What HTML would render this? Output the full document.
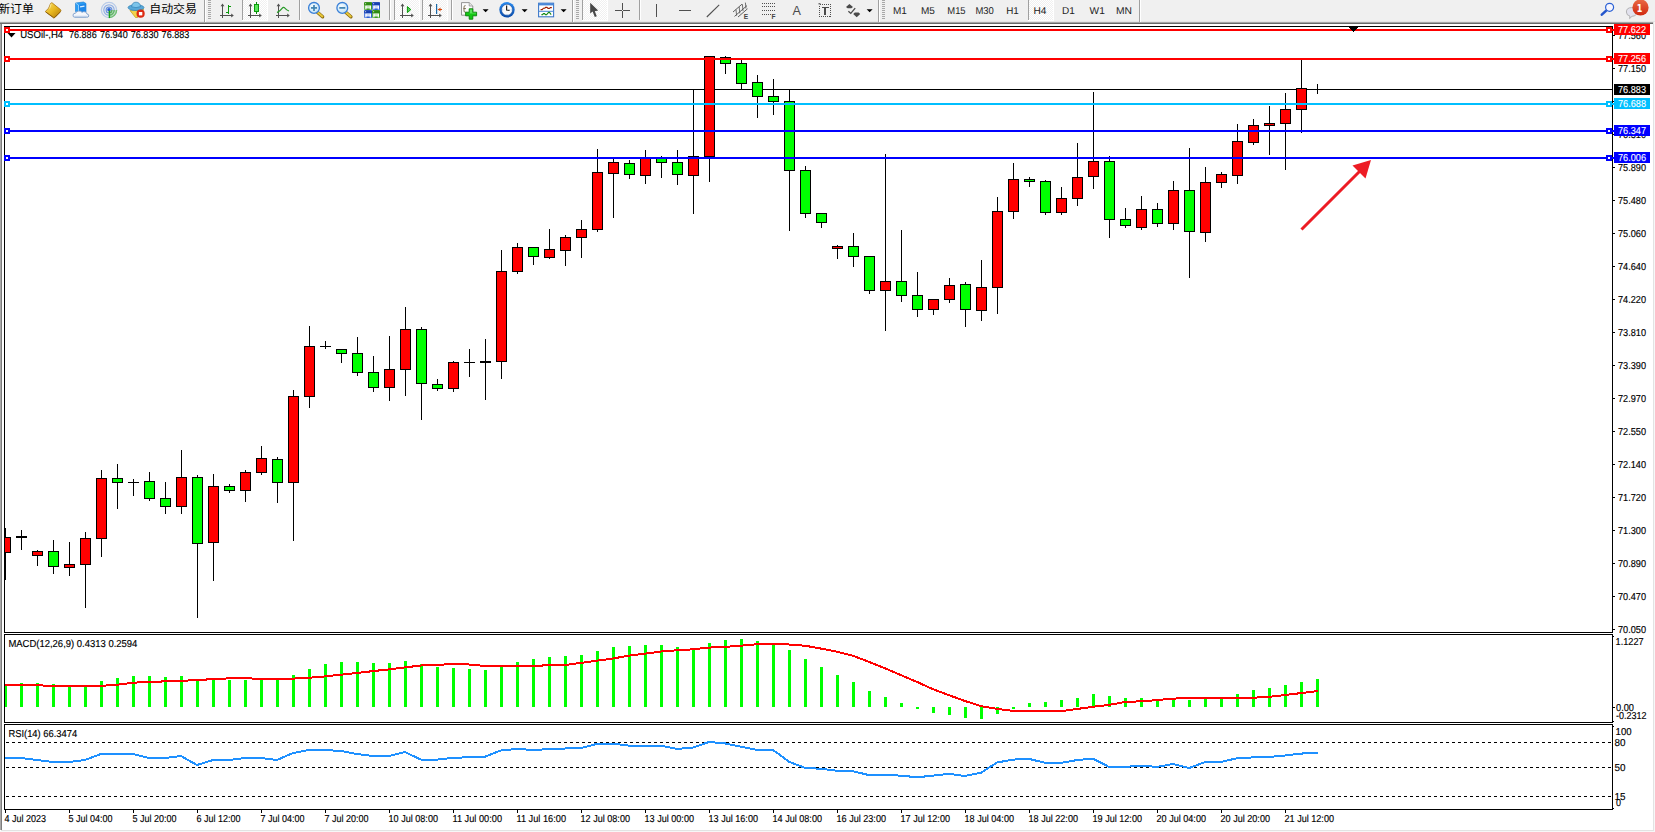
<!DOCTYPE html><html><head><meta charset="utf-8"><title>USOil H4</title><style>html,body{margin:0;padding:0;background:#fff;overflow:hidden}body{width:1655px;height:832px}svg{display:block}text{font-family:"Liberation Sans","Noto Sans CJK SC",sans-serif}.t{font-size:10.1px;fill:#000;stroke:#000;stroke-width:0.15px;text-rendering:geometricPrecision}.w{font-size:10.1px;fill:#fff;stroke:#fff;stroke-width:0.1px;text-rendering:geometricPrecision}.cj{font-size:11.6px;fill:#000}.tf{font-size:10px;fill:#222;text-rendering:geometricPrecision}</style></head><body>
<svg width="1655" height="832" viewBox="0 0 1655 832">
<rect width="1655" height="832" fill="#fff"/>
<g id="toolbar">
<rect x="0" y="0" width="1655" height="22" fill="#f0f0f0"/>
<rect x="0" y="21" width="1655" height="1" fill="#e6e6e6"/>
<rect x="0" y="22" width="1654" height="1" fill="#a6a6a6"/>
<rect x="0" y="23" width="1654" height="1" fill="#696969"/>
</g>
<rect x="0" y="24" width="1" height="806" fill="#a9a9a9"/>
<rect x="1" y="24" width="1" height="806" fill="#7d7d7d"/>
<rect x="1653" y="22" width="1" height="809" fill="#e3e3e3"/>
<rect x="1654" y="22" width="1" height="810" fill="#f7f7f7"/>
<rect x="1" y="830" width="1653" height="1" fill="#e3e3e3"/>
<rect x="0" y="831" width="1655" height="1" fill="#f7f7f7"/>
<g id="frames" fill="#000" shape-rendering="crispEdges">
<rect x="4" y="26" width="1609" height="1" fill="#000"/>
<rect x="4" y="26" width="1" height="784" fill="#000"/>
<rect x="1612" y="26" width="1" height="784" fill="#000"/>
<rect x="4" y="632" width="1609" height="1" fill="#000"/>
<rect x="4" y="633" width="1609" height="1" fill="#fff"/>
<rect x="4" y="634" width="1609" height="1" fill="#000"/>
<rect x="4" y="722" width="1609" height="1" fill="#000"/>
<rect x="4" y="723" width="1609" height="1" fill="#fff"/>
<rect x="4" y="724" width="1609" height="1" fill="#000"/>
<rect x="4" y="809" width="1609" height="1" fill="#000"/>
</g>
<rect x="5" y="89" width="1607" height="1" fill="#000"/>
<g id="candles" shape-rendering="crispEdges">
<rect x="5" y="528" width="1" height="52" fill="#000"/>
<rect x="5" y="537" width="6" height="16" fill="#000"/>
<rect x="5" y="538" width="5" height="14" fill="#ff0000"/>
<rect x="21" y="530" width="1" height="20" fill="#000"/>
<rect x="16" y="536" width="11" height="2" fill="#000"/>
<rect x="37" y="550" width="1" height="16" fill="#000"/>
<rect x="32" y="551" width="11" height="5" fill="#000"/>
<rect x="33" y="552" width="9" height="3" fill="#ff0000"/>
<rect x="53" y="540" width="1" height="34" fill="#000"/>
<rect x="48" y="551" width="11" height="16" fill="#000"/>
<rect x="49" y="552" width="9" height="14" fill="#00ff00"/>
<rect x="69" y="542" width="1" height="34" fill="#000"/>
<rect x="64" y="564" width="11" height="4" fill="#000"/>
<rect x="65" y="565" width="9" height="2" fill="#ff0000"/>
<rect x="85" y="532" width="1" height="76" fill="#000"/>
<rect x="80" y="538" width="11" height="27" fill="#000"/>
<rect x="81" y="539" width="9" height="25" fill="#ff0000"/>
<rect x="101" y="470" width="1" height="87" fill="#000"/>
<rect x="96" y="478" width="11" height="61" fill="#000"/>
<rect x="97" y="479" width="9" height="59" fill="#ff0000"/>
<rect x="117" y="464" width="1" height="45" fill="#000"/>
<rect x="112" y="478" width="11" height="5" fill="#000"/>
<rect x="113" y="479" width="9" height="3" fill="#00ff00"/>
<rect x="133" y="479" width="1" height="17" fill="#000"/>
<rect x="128" y="482" width="11" height="1" fill="#000"/>
<rect x="149" y="472" width="1" height="29" fill="#000"/>
<rect x="144" y="481" width="11" height="18" fill="#000"/>
<rect x="145" y="482" width="9" height="16" fill="#00ff00"/>
<rect x="165" y="482" width="1" height="32" fill="#000"/>
<rect x="160" y="498" width="11" height="9" fill="#000"/>
<rect x="161" y="499" width="9" height="7" fill="#00ff00"/>
<rect x="181" y="450" width="1" height="64" fill="#000"/>
<rect x="176" y="477" width="11" height="30" fill="#000"/>
<rect x="177" y="478" width="9" height="28" fill="#ff0000"/>
<rect x="197" y="475" width="1" height="143" fill="#000"/>
<rect x="192" y="477" width="11" height="67" fill="#000"/>
<rect x="193" y="478" width="9" height="65" fill="#00ff00"/>
<rect x="213" y="474" width="1" height="107" fill="#000"/>
<rect x="208" y="486" width="11" height="57" fill="#000"/>
<rect x="209" y="487" width="9" height="55" fill="#ff0000"/>
<rect x="229" y="484" width="1" height="9" fill="#000"/>
<rect x="224" y="486" width="11" height="5" fill="#000"/>
<rect x="225" y="487" width="9" height="3" fill="#00ff00"/>
<rect x="245" y="470" width="1" height="32" fill="#000"/>
<rect x="240" y="472" width="11" height="19" fill="#000"/>
<rect x="241" y="473" width="9" height="17" fill="#ff0000"/>
<rect x="261" y="446" width="1" height="29" fill="#000"/>
<rect x="256" y="458" width="11" height="15" fill="#000"/>
<rect x="257" y="459" width="9" height="13" fill="#ff0000"/>
<rect x="277" y="457" width="1" height="46" fill="#000"/>
<rect x="272" y="459" width="11" height="24" fill="#000"/>
<rect x="273" y="460" width="9" height="22" fill="#00ff00"/>
<rect x="293" y="390" width="1" height="151" fill="#000"/>
<rect x="288" y="396" width="11" height="87" fill="#000"/>
<rect x="289" y="397" width="9" height="85" fill="#ff0000"/>
<rect x="309" y="326" width="1" height="82" fill="#000"/>
<rect x="304" y="346" width="11" height="51" fill="#000"/>
<rect x="305" y="347" width="9" height="49" fill="#ff0000"/>
<rect x="325" y="341" width="1" height="8" fill="#000"/>
<rect x="320" y="346" width="11" height="1" fill="#000"/>
<rect x="341" y="349" width="1" height="14" fill="#000"/>
<rect x="336" y="349" width="11" height="5" fill="#000"/>
<rect x="337" y="350" width="9" height="3" fill="#00ff00"/>
<rect x="357" y="337" width="1" height="39" fill="#000"/>
<rect x="352" y="353" width="11" height="20" fill="#000"/>
<rect x="353" y="354" width="9" height="18" fill="#00ff00"/>
<rect x="373" y="356" width="1" height="36" fill="#000"/>
<rect x="368" y="372" width="11" height="16" fill="#000"/>
<rect x="369" y="373" width="9" height="14" fill="#00ff00"/>
<rect x="389" y="336" width="1" height="65" fill="#000"/>
<rect x="384" y="369" width="11" height="19" fill="#000"/>
<rect x="385" y="370" width="9" height="17" fill="#ff0000"/>
<rect x="405" y="307" width="1" height="89" fill="#000"/>
<rect x="400" y="329" width="11" height="41" fill="#000"/>
<rect x="401" y="330" width="9" height="39" fill="#ff0000"/>
<rect x="421" y="327" width="1" height="93" fill="#000"/>
<rect x="416" y="329" width="11" height="55" fill="#000"/>
<rect x="417" y="330" width="9" height="53" fill="#00ff00"/>
<rect x="437" y="379" width="1" height="12" fill="#000"/>
<rect x="432" y="384" width="11" height="5" fill="#000"/>
<rect x="433" y="385" width="9" height="3" fill="#00ff00"/>
<rect x="453" y="361" width="1" height="31" fill="#000"/>
<rect x="448" y="362" width="11" height="27" fill="#000"/>
<rect x="449" y="363" width="9" height="25" fill="#ff0000"/>
<rect x="469" y="349" width="1" height="28" fill="#000"/>
<rect x="464" y="362" width="11" height="1" fill="#000"/>
<rect x="485" y="339" width="1" height="61" fill="#000"/>
<rect x="480" y="361" width="11" height="2" fill="#000"/>
<rect x="501" y="250" width="1" height="129" fill="#000"/>
<rect x="496" y="271" width="11" height="91" fill="#000"/>
<rect x="497" y="272" width="9" height="89" fill="#ff0000"/>
<rect x="517" y="243" width="1" height="31" fill="#000"/>
<rect x="512" y="247" width="11" height="25" fill="#000"/>
<rect x="513" y="248" width="9" height="23" fill="#ff0000"/>
<rect x="533" y="247" width="1" height="18" fill="#000"/>
<rect x="528" y="247" width="11" height="10" fill="#000"/>
<rect x="529" y="248" width="9" height="8" fill="#00ff00"/>
<rect x="549" y="229" width="1" height="30" fill="#000"/>
<rect x="544" y="249" width="11" height="9" fill="#000"/>
<rect x="545" y="250" width="9" height="7" fill="#ff0000"/>
<rect x="565" y="235" width="1" height="31" fill="#000"/>
<rect x="560" y="237" width="11" height="14" fill="#000"/>
<rect x="561" y="238" width="9" height="12" fill="#ff0000"/>
<rect x="581" y="220" width="1" height="38" fill="#000"/>
<rect x="576" y="229" width="11" height="9" fill="#000"/>
<rect x="577" y="230" width="9" height="7" fill="#ff0000"/>
<rect x="597" y="149" width="1" height="83" fill="#000"/>
<rect x="592" y="172" width="11" height="58" fill="#000"/>
<rect x="593" y="173" width="9" height="56" fill="#ff0000"/>
<rect x="613" y="158" width="1" height="60" fill="#000"/>
<rect x="608" y="162" width="11" height="12" fill="#000"/>
<rect x="609" y="163" width="9" height="10" fill="#ff0000"/>
<rect x="629" y="160" width="1" height="19" fill="#000"/>
<rect x="624" y="163" width="11" height="12" fill="#000"/>
<rect x="625" y="164" width="9" height="10" fill="#00ff00"/>
<rect x="645" y="150" width="1" height="34" fill="#000"/>
<rect x="640" y="158" width="11" height="18" fill="#000"/>
<rect x="641" y="159" width="9" height="16" fill="#ff0000"/>
<rect x="661" y="156" width="1" height="22" fill="#000"/>
<rect x="656" y="158" width="11" height="5" fill="#000"/>
<rect x="657" y="159" width="9" height="3" fill="#00ff00"/>
<rect x="677" y="150" width="1" height="35" fill="#000"/>
<rect x="672" y="162" width="11" height="13" fill="#000"/>
<rect x="673" y="163" width="9" height="11" fill="#00ff00"/>
<rect x="693" y="90" width="1" height="124" fill="#000"/>
<rect x="688" y="156" width="11" height="20" fill="#000"/>
<rect x="689" y="157" width="9" height="18" fill="#ff0000"/>
<rect x="709" y="56" width="1" height="126" fill="#000"/>
<rect x="704" y="56" width="11" height="101" fill="#000"/>
<rect x="705" y="57" width="9" height="99" fill="#ff0000"/>
<rect x="725" y="56" width="1" height="18" fill="#000"/>
<rect x="720" y="57" width="11" height="7" fill="#000"/>
<rect x="721" y="58" width="9" height="5" fill="#00ff00"/>
<rect x="741" y="60" width="1" height="29" fill="#000"/>
<rect x="736" y="63" width="11" height="21" fill="#000"/>
<rect x="737" y="64" width="9" height="19" fill="#00ff00"/>
<rect x="757" y="75" width="1" height="43" fill="#000"/>
<rect x="752" y="82" width="11" height="15" fill="#000"/>
<rect x="753" y="83" width="9" height="13" fill="#00ff00"/>
<rect x="773" y="79" width="1" height="36" fill="#000"/>
<rect x="768" y="96" width="11" height="6" fill="#000"/>
<rect x="769" y="97" width="9" height="4" fill="#00ff00"/>
<rect x="789" y="90" width="1" height="141" fill="#000"/>
<rect x="784" y="101" width="11" height="70" fill="#000"/>
<rect x="785" y="102" width="9" height="68" fill="#00ff00"/>
<rect x="805" y="166" width="1" height="52" fill="#000"/>
<rect x="800" y="170" width="11" height="44" fill="#000"/>
<rect x="801" y="171" width="9" height="42" fill="#00ff00"/>
<rect x="821" y="213" width="1" height="15" fill="#000"/>
<rect x="816" y="213" width="11" height="10" fill="#000"/>
<rect x="817" y="214" width="9" height="8" fill="#00ff00"/>
<rect x="837" y="245" width="1" height="14" fill="#000"/>
<rect x="832" y="246" width="11" height="3" fill="#000"/>
<rect x="833" y="247" width="9" height="1" fill="#ff0000"/>
<rect x="853" y="233" width="1" height="34" fill="#000"/>
<rect x="848" y="246" width="11" height="11" fill="#000"/>
<rect x="849" y="247" width="9" height="9" fill="#00ff00"/>
<rect x="869" y="256" width="1" height="38" fill="#000"/>
<rect x="864" y="256" width="11" height="35" fill="#000"/>
<rect x="865" y="257" width="9" height="33" fill="#00ff00"/>
<rect x="885" y="154" width="1" height="177" fill="#000"/>
<rect x="880" y="281" width="11" height="10" fill="#000"/>
<rect x="881" y="282" width="9" height="8" fill="#ff0000"/>
<rect x="901" y="230" width="1" height="72" fill="#000"/>
<rect x="896" y="281" width="11" height="15" fill="#000"/>
<rect x="897" y="282" width="9" height="13" fill="#00ff00"/>
<rect x="917" y="272" width="1" height="45" fill="#000"/>
<rect x="912" y="295" width="11" height="15" fill="#000"/>
<rect x="913" y="296" width="9" height="13" fill="#00ff00"/>
<rect x="933" y="299" width="1" height="16" fill="#000"/>
<rect x="928" y="299" width="11" height="11" fill="#000"/>
<rect x="929" y="300" width="9" height="9" fill="#ff0000"/>
<rect x="949" y="278" width="1" height="25" fill="#000"/>
<rect x="944" y="285" width="11" height="15" fill="#000"/>
<rect x="945" y="286" width="9" height="13" fill="#ff0000"/>
<rect x="965" y="282" width="1" height="45" fill="#000"/>
<rect x="960" y="284" width="11" height="26" fill="#000"/>
<rect x="961" y="285" width="9" height="24" fill="#00ff00"/>
<rect x="981" y="260" width="1" height="61" fill="#000"/>
<rect x="976" y="287" width="11" height="24" fill="#000"/>
<rect x="977" y="288" width="9" height="22" fill="#ff0000"/>
<rect x="997" y="197" width="1" height="117" fill="#000"/>
<rect x="992" y="211" width="11" height="77" fill="#000"/>
<rect x="993" y="212" width="9" height="75" fill="#ff0000"/>
<rect x="1013" y="163" width="1" height="56" fill="#000"/>
<rect x="1008" y="179" width="11" height="33" fill="#000"/>
<rect x="1009" y="180" width="9" height="31" fill="#ff0000"/>
<rect x="1029" y="177" width="1" height="10" fill="#000"/>
<rect x="1024" y="179" width="11" height="3" fill="#000"/>
<rect x="1025" y="180" width="9" height="1" fill="#00ff00"/>
<rect x="1045" y="180" width="1" height="35" fill="#000"/>
<rect x="1040" y="181" width="11" height="32" fill="#000"/>
<rect x="1041" y="182" width="9" height="30" fill="#00ff00"/>
<rect x="1061" y="187" width="1" height="28" fill="#000"/>
<rect x="1056" y="198" width="11" height="15" fill="#000"/>
<rect x="1057" y="199" width="9" height="13" fill="#ff0000"/>
<rect x="1077" y="143" width="1" height="63" fill="#000"/>
<rect x="1072" y="177" width="11" height="22" fill="#000"/>
<rect x="1073" y="178" width="9" height="20" fill="#ff0000"/>
<rect x="1093" y="92" width="1" height="97" fill="#000"/>
<rect x="1088" y="161" width="11" height="16" fill="#000"/>
<rect x="1089" y="162" width="9" height="14" fill="#ff0000"/>
<rect x="1109" y="156" width="1" height="82" fill="#000"/>
<rect x="1104" y="161" width="11" height="59" fill="#000"/>
<rect x="1105" y="162" width="9" height="57" fill="#00ff00"/>
<rect x="1125" y="208" width="1" height="20" fill="#000"/>
<rect x="1120" y="219" width="11" height="7" fill="#000"/>
<rect x="1121" y="220" width="9" height="5" fill="#00ff00"/>
<rect x="1141" y="196" width="1" height="34" fill="#000"/>
<rect x="1136" y="209" width="11" height="19" fill="#000"/>
<rect x="1137" y="210" width="9" height="17" fill="#ff0000"/>
<rect x="1157" y="203" width="1" height="24" fill="#000"/>
<rect x="1152" y="209" width="11" height="15" fill="#000"/>
<rect x="1153" y="210" width="9" height="13" fill="#00ff00"/>
<rect x="1173" y="181" width="1" height="49" fill="#000"/>
<rect x="1168" y="190" width="11" height="34" fill="#000"/>
<rect x="1169" y="191" width="9" height="32" fill="#ff0000"/>
<rect x="1189" y="148" width="1" height="130" fill="#000"/>
<rect x="1184" y="190" width="11" height="42" fill="#000"/>
<rect x="1185" y="191" width="9" height="40" fill="#00ff00"/>
<rect x="1205" y="167" width="1" height="75" fill="#000"/>
<rect x="1200" y="182" width="11" height="51" fill="#000"/>
<rect x="1201" y="183" width="9" height="49" fill="#ff0000"/>
<rect x="1221" y="172" width="1" height="16" fill="#000"/>
<rect x="1216" y="174" width="11" height="9" fill="#000"/>
<rect x="1217" y="175" width="9" height="7" fill="#ff0000"/>
<rect x="1237" y="124" width="1" height="60" fill="#000"/>
<rect x="1232" y="141" width="11" height="35" fill="#000"/>
<rect x="1233" y="142" width="9" height="33" fill="#ff0000"/>
<rect x="1253" y="119" width="1" height="26" fill="#000"/>
<rect x="1248" y="125" width="11" height="18" fill="#000"/>
<rect x="1249" y="126" width="9" height="16" fill="#ff0000"/>
<rect x="1269" y="106" width="1" height="49" fill="#000"/>
<rect x="1264" y="123" width="11" height="3" fill="#000"/>
<rect x="1265" y="124" width="9" height="1" fill="#ff0000"/>
<rect x="1285" y="93" width="1" height="77" fill="#000"/>
<rect x="1280" y="109" width="11" height="15" fill="#000"/>
<rect x="1281" y="110" width="9" height="13" fill="#ff0000"/>
<rect x="1301" y="60" width="1" height="73" fill="#000"/>
<rect x="1296" y="88" width="11" height="22" fill="#000"/>
<rect x="1297" y="89" width="9" height="20" fill="#ff0000"/>
<rect x="1317" y="84" width="1" height="10" fill="#000"/>
<rect x="1312" y="89" width="11" height="1" fill="#000"/>
</g>
<g id="hlines" shape-rendering="crispEdges">
<rect x="5" y="29" width="1609" height="2" fill="#ff0000"/>
<rect x="4" y="27" width="6" height="6" fill="#ff0000"/>
<rect x="6" y="29" width="2" height="2" fill="#fff"/>
<rect x="1606" y="27" width="6" height="6" fill="#ff0000"/>
<rect x="1608" y="29" width="2" height="2" fill="#fff"/>
<rect x="1614" y="24" width="36" height="11" fill="#ff0000"/>
<text x="1618" y="33" class="w" textLength="28" lengthAdjust="spacingAndGlyphs">77.622</text>
<rect x="5" y="58" width="1609" height="2" fill="#ff0000"/>
<rect x="4" y="56" width="6" height="6" fill="#ff0000"/>
<rect x="6" y="58" width="2" height="2" fill="#fff"/>
<rect x="1606" y="56" width="6" height="6" fill="#ff0000"/>
<rect x="1608" y="58" width="2" height="2" fill="#fff"/>
<rect x="1614" y="53" width="36" height="11" fill="#ff0000"/>
<text x="1618" y="62" class="w" textLength="28" lengthAdjust="spacingAndGlyphs">77.256</text>
<rect x="5" y="103" width="1609" height="2" fill="#00bfff"/>
<rect x="4" y="101" width="6" height="6" fill="#00bfff"/>
<rect x="6" y="103" width="2" height="2" fill="#fff"/>
<rect x="1606" y="101" width="6" height="6" fill="#00bfff"/>
<rect x="1608" y="103" width="2" height="2" fill="#fff"/>
<rect x="1614" y="98" width="36" height="11" fill="#00bfff"/>
<text x="1618" y="107" class="w" textLength="28" lengthAdjust="spacingAndGlyphs">76.688</text>
<rect x="5" y="130" width="1609" height="2" fill="#0000ff"/>
<rect x="4" y="128" width="6" height="6" fill="#0000ff"/>
<rect x="6" y="130" width="2" height="2" fill="#fff"/>
<rect x="1606" y="128" width="6" height="6" fill="#0000ff"/>
<rect x="1608" y="130" width="2" height="2" fill="#fff"/>
<rect x="1614" y="125" width="36" height="11" fill="#0000ff"/>
<text x="1618" y="134" class="w" textLength="28" lengthAdjust="spacingAndGlyphs">76.347</text>
<rect x="5" y="157" width="1609" height="2" fill="#0000ff"/>
<rect x="4" y="155" width="6" height="6" fill="#0000ff"/>
<rect x="6" y="157" width="2" height="2" fill="#fff"/>
<rect x="1606" y="155" width="6" height="6" fill="#0000ff"/>
<rect x="1608" y="157" width="2" height="2" fill="#fff"/>
<rect x="1614" y="152" width="36" height="11" fill="#0000ff"/>
<text x="1618" y="161" class="w" textLength="28" lengthAdjust="spacingAndGlyphs">76.006</text>
</g>
<rect x="1614" y="84" width="36" height="11" fill="#000"/>
<text x="1618" y="93" class="w" textLength="28" lengthAdjust="spacingAndGlyphs">76.883</text>
<g id="arrow"><line x1="1301.5" y1="229.5" x2="1360" y2="171" stroke="#ed1c24" stroke-width="3"/><polygon points="1371,160 1352.5,165.5 1365.5,178.5" fill="#ed1c24"/></g>
<g id="shiftmark" fill="#000" shape-rendering="crispEdges"><rect x="1349" y="27" width="9" height="1"/><rect x="1350" y="28" width="7" height="1"/><rect x="1351" y="29" width="5" height="1"/><rect x="1352" y="30" width="3" height="1"/><rect x="1353" y="31" width="1" height="1"/></g>
<g id="paxis">
<rect x="1613" y="35" width="2" height="1" fill="#000"/>
<text x="1618" y="38.7" class="t" textLength="28" lengthAdjust="spacingAndGlyphs">77.560</text>
<rect x="1613" y="68" width="2" height="1" fill="#000"/>
<text x="1618" y="71.7" class="t" textLength="28" lengthAdjust="spacingAndGlyphs">77.150</text>
<rect x="1613" y="101" width="2" height="1" fill="#000"/>
<rect x="1613" y="134" width="2" height="1" fill="#000"/>
<text x="1618" y="137.7" class="t" textLength="28" lengthAdjust="spacingAndGlyphs">76.310</text>
<rect x="1613" y="167" width="2" height="1" fill="#000"/>
<text x="1618" y="170.7" class="t" textLength="28" lengthAdjust="spacingAndGlyphs">75.890</text>
<rect x="1613" y="200" width="2" height="1" fill="#000"/>
<text x="1618" y="203.7" class="t" textLength="28" lengthAdjust="spacingAndGlyphs">75.480</text>
<rect x="1613" y="233" width="2" height="1" fill="#000"/>
<text x="1618" y="236.7" class="t" textLength="28" lengthAdjust="spacingAndGlyphs">75.060</text>
<rect x="1613" y="266" width="2" height="1" fill="#000"/>
<text x="1618" y="269.7" class="t" textLength="28" lengthAdjust="spacingAndGlyphs">74.640</text>
<rect x="1613" y="299" width="2" height="1" fill="#000"/>
<text x="1618" y="302.7" class="t" textLength="28" lengthAdjust="spacingAndGlyphs">74.220</text>
<rect x="1613" y="332" width="2" height="1" fill="#000"/>
<text x="1618" y="335.7" class="t" textLength="28" lengthAdjust="spacingAndGlyphs">73.810</text>
<rect x="1613" y="365" width="2" height="1" fill="#000"/>
<text x="1618" y="368.7" class="t" textLength="28" lengthAdjust="spacingAndGlyphs">73.390</text>
<rect x="1613" y="398" width="2" height="1" fill="#000"/>
<text x="1618" y="401.7" class="t" textLength="28" lengthAdjust="spacingAndGlyphs">72.970</text>
<rect x="1613" y="431" width="2" height="1" fill="#000"/>
<text x="1618" y="434.7" class="t" textLength="28" lengthAdjust="spacingAndGlyphs">72.550</text>
<rect x="1613" y="464" width="2" height="1" fill="#000"/>
<text x="1618" y="467.7" class="t" textLength="28" lengthAdjust="spacingAndGlyphs">72.140</text>
<rect x="1613" y="497" width="2" height="1" fill="#000"/>
<text x="1618" y="500.7" class="t" textLength="28" lengthAdjust="spacingAndGlyphs">71.720</text>
<rect x="1613" y="530" width="2" height="1" fill="#000"/>
<text x="1618" y="533.7" class="t" textLength="28" lengthAdjust="spacingAndGlyphs">71.300</text>
<rect x="1613" y="563" width="2" height="1" fill="#000"/>
<text x="1618" y="566.7" class="t" textLength="28" lengthAdjust="spacingAndGlyphs">70.890</text>
<rect x="1613" y="596" width="2" height="1" fill="#000"/>
<text x="1618" y="599.7" class="t" textLength="28" lengthAdjust="spacingAndGlyphs">70.470</text>
<rect x="1613" y="629" width="2" height="1" fill="#000"/>
<text x="1618" y="632.7" class="t" textLength="28" lengthAdjust="spacingAndGlyphs">70.050</text>
</g>
<g id="hl2" shape-rendering="crispEdges">
<rect x="1614" y="24" width="36" height="11" fill="#ff0000"/>
<text x="1618" y="33" class="w" textLength="28" lengthAdjust="spacingAndGlyphs">77.622</text>
<rect x="1614" y="53" width="36" height="11" fill="#ff0000"/>
<text x="1618" y="62" class="w" textLength="28" lengthAdjust="spacingAndGlyphs">77.256</text>
<rect x="1614" y="98" width="36" height="11" fill="#00bfff"/>
<text x="1618" y="107" class="w" textLength="28" lengthAdjust="spacingAndGlyphs">76.688</text>
<rect x="1614" y="125" width="36" height="11" fill="#0000ff"/>
<text x="1618" y="134" class="w" textLength="28" lengthAdjust="spacingAndGlyphs">76.347</text>
<rect x="1614" y="152" width="36" height="11" fill="#0000ff"/>
<text x="1618" y="161" class="w" textLength="28" lengthAdjust="spacingAndGlyphs">76.006</text>
</g>
<polygon points="7.5,33 15.5,33 11.5,37.5" fill="#000"/>
<text x="20.2" y="38" class="t" textLength="43" lengthAdjust="spacingAndGlyphs">USOil-,H4</text>
<text x="68.9" y="38" class="t" textLength="27.8" lengthAdjust="spacingAndGlyphs">76.886</text>
<text x="99.9" y="38" class="t" textLength="27.8" lengthAdjust="spacingAndGlyphs">76.940</text>
<text x="130.7" y="38" class="t" textLength="27.8" lengthAdjust="spacingAndGlyphs">76.830</text>
<text x="161.6" y="38" class="t" textLength="27.8" lengthAdjust="spacingAndGlyphs">76.883</text>
<g id="macd" shape-rendering="crispEdges">
<rect x="5" y="685" width="2" height="22" fill="#00ff00"/>
<rect x="20" y="683" width="3" height="24" fill="#00ff00"/>
<rect x="36" y="683" width="3" height="24" fill="#00ff00"/>
<rect x="52" y="684" width="3" height="23" fill="#00ff00"/>
<rect x="68" y="686" width="3" height="21" fill="#00ff00"/>
<rect x="84" y="687" width="3" height="20" fill="#00ff00"/>
<rect x="100" y="681" width="3" height="26" fill="#00ff00"/>
<rect x="116" y="678" width="3" height="29" fill="#00ff00"/>
<rect x="132" y="676" width="3" height="31" fill="#00ff00"/>
<rect x="148" y="676" width="3" height="31" fill="#00ff00"/>
<rect x="164" y="677" width="3" height="30" fill="#00ff00"/>
<rect x="180" y="676" width="3" height="31" fill="#00ff00"/>
<rect x="196" y="679" width="3" height="28" fill="#00ff00"/>
<rect x="212" y="680" width="3" height="27" fill="#00ff00"/>
<rect x="228" y="680" width="3" height="27" fill="#00ff00"/>
<rect x="244" y="680" width="3" height="27" fill="#00ff00"/>
<rect x="260" y="679" width="3" height="28" fill="#00ff00"/>
<rect x="276" y="680" width="3" height="27" fill="#00ff00"/>
<rect x="292" y="675" width="3" height="32" fill="#00ff00"/>
<rect x="308" y="669" width="3" height="38" fill="#00ff00"/>
<rect x="324" y="664" width="3" height="43" fill="#00ff00"/>
<rect x="340" y="662" width="3" height="45" fill="#00ff00"/>
<rect x="356" y="662" width="3" height="45" fill="#00ff00"/>
<rect x="372" y="663" width="3" height="44" fill="#00ff00"/>
<rect x="388" y="663" width="3" height="44" fill="#00ff00"/>
<rect x="404" y="661" width="3" height="46" fill="#00ff00"/>
<rect x="420" y="664" width="3" height="43" fill="#00ff00"/>
<rect x="436" y="667" width="3" height="40" fill="#00ff00"/>
<rect x="452" y="668" width="3" height="39" fill="#00ff00"/>
<rect x="468" y="669" width="3" height="38" fill="#00ff00"/>
<rect x="484" y="670" width="3" height="37" fill="#00ff00"/>
<rect x="500" y="666" width="3" height="41" fill="#00ff00"/>
<rect x="516" y="662" width="3" height="45" fill="#00ff00"/>
<rect x="532" y="659" width="3" height="48" fill="#00ff00"/>
<rect x="548" y="657" width="3" height="50" fill="#00ff00"/>
<rect x="564" y="656" width="3" height="51" fill="#00ff00"/>
<rect x="580" y="655" width="3" height="52" fill="#00ff00"/>
<rect x="596" y="651" width="3" height="56" fill="#00ff00"/>
<rect x="612" y="647" width="3" height="60" fill="#00ff00"/>
<rect x="628" y="646" width="3" height="61" fill="#00ff00"/>
<rect x="644" y="645" width="3" height="62" fill="#00ff00"/>
<rect x="660" y="645" width="3" height="62" fill="#00ff00"/>
<rect x="676" y="647" width="3" height="60" fill="#00ff00"/>
<rect x="692" y="648" width="3" height="59" fill="#00ff00"/>
<rect x="708" y="643" width="3" height="64" fill="#00ff00"/>
<rect x="724" y="640" width="3" height="67" fill="#00ff00"/>
<rect x="740" y="639" width="3" height="68" fill="#00ff00"/>
<rect x="756" y="641" width="3" height="66" fill="#00ff00"/>
<rect x="772" y="644" width="3" height="63" fill="#00ff00"/>
<rect x="788" y="650" width="3" height="57" fill="#00ff00"/>
<rect x="804" y="659" width="3" height="48" fill="#00ff00"/>
<rect x="820" y="667" width="3" height="40" fill="#00ff00"/>
<rect x="836" y="675" width="3" height="32" fill="#00ff00"/>
<rect x="852" y="682" width="3" height="25" fill="#00ff00"/>
<rect x="868" y="691" width="3" height="16" fill="#00ff00"/>
<rect x="884" y="697" width="3" height="10" fill="#00ff00"/>
<rect x="900" y="703" width="3" height="4" fill="#00ff00"/>
<rect x="916" y="707" width="3" height="2" fill="#00ff00"/>
<rect x="932" y="707" width="3" height="6" fill="#00ff00"/>
<rect x="948" y="707" width="3" height="8" fill="#00ff00"/>
<rect x="964" y="707" width="3" height="11" fill="#00ff00"/>
<rect x="980" y="707" width="3" height="12" fill="#00ff00"/>
<rect x="996" y="707" width="3" height="7" fill="#00ff00"/>
<rect x="1012" y="707" width="3" height="2" fill="#00ff00"/>
<rect x="1028" y="703" width="3" height="4" fill="#00ff00"/>
<rect x="1044" y="702" width="3" height="5" fill="#00ff00"/>
<rect x="1060" y="700" width="3" height="7" fill="#00ff00"/>
<rect x="1076" y="698" width="3" height="9" fill="#00ff00"/>
<rect x="1092" y="694" width="3" height="13" fill="#00ff00"/>
<rect x="1108" y="696" width="3" height="11" fill="#00ff00"/>
<rect x="1124" y="698" width="3" height="9" fill="#00ff00"/>
<rect x="1140" y="698" width="3" height="9" fill="#00ff00"/>
<rect x="1156" y="700" width="3" height="7" fill="#00ff00"/>
<rect x="1172" y="699" width="3" height="8" fill="#00ff00"/>
<rect x="1188" y="700" width="3" height="7" fill="#00ff00"/>
<rect x="1204" y="698" width="3" height="9" fill="#00ff00"/>
<rect x="1220" y="698" width="3" height="9" fill="#00ff00"/>
<rect x="1236" y="694" width="3" height="13" fill="#00ff00"/>
<rect x="1252" y="690" width="3" height="17" fill="#00ff00"/>
<rect x="1268" y="688" width="3" height="19" fill="#00ff00"/>
<rect x="1284" y="685" width="3" height="22" fill="#00ff00"/>
<rect x="1300" y="682" width="3" height="25" fill="#00ff00"/>
<rect x="1316" y="679" width="3" height="28" fill="#00ff00"/>
<polyline points="5,685.4 21,685.4 37,685.4 53,685.7 69,686.0 85,686.4 101,685.8 117,684.8 133,682.7 149,681.9 165,681.4 181,681.0 197,679.8 213,679.3 229,678.3 245,678.1 261,679.0 277,679.3 293,678.6 309,677.8 325,676.4 341,674.7 357,673.0 373,671.1 389,669.4 405,667.4 421,665.5 437,664.8 453,664.1 469,664.5 485,666.0 501,666.2 517,666.2 533,665.8 549,665.3 565,665.0 581,662.9 597,660.7 613,658.5 629,655.6 645,653.7 661,651.5 677,650.3 693,649.3 709,647.6 725,646.9 741,645.7 757,644.2 773,644.0 789,644.5 805,645.7 821,648.6 837,651.7 853,655.8 869,661.9 885,668.2 901,675.2 917,681.9 933,689.2 949,695.2 965,701.0 981,706.1 997,708.8 1013,710.9 1029,711.2 1045,711.2 1061,711.2 1077,709.0 1093,706.8 1109,704.9 1125,702.0 1141,701.3 1157,700.1 1173,698.6 1189,698.1 1205,698.1 1221,698.1 1237,698.1 1253,697.7 1269,696.9 1285,695.0 1301,693.1 1317,691.1 1318,691.1" fill="none" stroke="#ff0000" stroke-width="2"/>
</g>
<text x="8.4" y="647" class="t" textLength="129" lengthAdjust="spacingAndGlyphs">MACD(12,26,9) 0.4313 0.2594</text>
<rect x="1613" y="636" width="1" height="1" fill="#000"/>
<text x="1615.6" y="645" class="t" textLength="28" lengthAdjust="spacingAndGlyphs">1.1227</text>
<rect x="1613" y="707" width="2" height="1" fill="#000"/>
<text x="1616" y="710.5" class="t" textLength="18" lengthAdjust="spacingAndGlyphs">0.00</text>
<rect x="1613" y="721" width="1" height="1" fill="#000"/>
<text x="1616" y="719" class="t" textLength="30.5" lengthAdjust="spacingAndGlyphs">-0.2312</text>
<g id="rsi" shape-rendering="crispEdges">
<line x1="6" y1="742.5" x2="1612" y2="742.5" stroke="#000" stroke-width="1" stroke-dasharray="3 3"/>
<line x1="6" y1="767.5" x2="1612" y2="767.5" stroke="#000" stroke-width="1" stroke-dasharray="3 3"/>
<line x1="6" y1="796.5" x2="1612" y2="796.5" stroke="#000" stroke-width="1" stroke-dasharray="3 3"/>
<polyline points="5,758.0 21,758.0 37,760.0 53,762.0 69,762.0 85,760.0 101,754.0 117,754.0 133,754.0 149,758.0 165,758.0 181,756.0 197,765.0 213,760.0 229,760.0 245,758.0 261,758.0 277,760.0 293,753.0 309,750.0 325,750.0 341,751.0 357,754.0 373,756.0 389,756.0 405,752.1 421,759.6 437,759.6 453,757.9 469,757.2 485,756.7 501,750.4 517,749.0 533,749.9 549,749.2 565,748.5 581,748.0 597,743.9 613,743.7 629,745.6 645,745.6 661,745.6 677,749.0 693,747.5 709,742.0 725,743.4 741,746.8 757,749.9 773,749.9 789,761.8 805,767.8 821,768.8 837,770.7 853,771.2 869,775.1 885,775.1 901,775.6 917,777.3 933,775.6 949,773.9 965,776.0 981,772.7 997,762.5 1013,759.6 1029,758.9 1045,762.8 1061,762.8 1077,760.1 1093,758.6 1109,766.9 1125,766.9 1141,765.7 1157,766.9 1173,764.0 1189,768.1 1205,762.0 1221,762.0 1237,758.2 1253,757.4 1269,757.0 1285,755.5 1301,753.6 1317,752.6 1318,752.6" fill="none" stroke="#1e90ff" stroke-width="2"/>
</g>
<text x="8.4" y="737" class="t" textLength="68.8" lengthAdjust="spacingAndGlyphs">RSI(14) 66.3474</text>
<rect x="1613" y="726" width="1" height="1" fill="#000"/>
<rect x="1613" y="808" width="1" height="1" fill="#000"/>
<text x="1615.6" y="735" class="t" textLength="16" lengthAdjust="spacingAndGlyphs">100</text>
<text x="1614.6" y="745.6" class="t" textLength="11" lengthAdjust="spacingAndGlyphs">80</text>
<text x="1614.6" y="770.6" class="t" textLength="11" lengthAdjust="spacingAndGlyphs">50</text>
<text x="1614.5" y="799.5" class="t" textLength="11" lengthAdjust="spacingAndGlyphs">15</text>
<text x="1616" y="805.7" class="t" textLength="5" lengthAdjust="spacingAndGlyphs">0</text>
<g id="taxis">
<rect x="5" y="810" width="1" height="3" fill="#000"/>
<text x="4.5" y="822" class="t" textLength="41.5" lengthAdjust="spacingAndGlyphs">4 Jul 2023</text>
<rect x="69" y="810" width="1" height="3" fill="#000"/>
<text x="68.5" y="822" class="t" textLength="44" lengthAdjust="spacingAndGlyphs">5 Jul 04:00</text>
<rect x="133" y="810" width="1" height="3" fill="#000"/>
<text x="132.5" y="822" class="t" textLength="44" lengthAdjust="spacingAndGlyphs">5 Jul 20:00</text>
<rect x="197" y="810" width="1" height="3" fill="#000"/>
<text x="196.5" y="822" class="t" textLength="44" lengthAdjust="spacingAndGlyphs">6 Jul 12:00</text>
<rect x="261" y="810" width="1" height="3" fill="#000"/>
<text x="260.5" y="822" class="t" textLength="44" lengthAdjust="spacingAndGlyphs">7 Jul 04:00</text>
<rect x="325" y="810" width="1" height="3" fill="#000"/>
<text x="324.5" y="822" class="t" textLength="44" lengthAdjust="spacingAndGlyphs">7 Jul 20:00</text>
<rect x="389" y="810" width="1" height="3" fill="#000"/>
<text x="388.5" y="822" class="t" textLength="49.5" lengthAdjust="spacingAndGlyphs">10 Jul 08:00</text>
<rect x="453" y="810" width="1" height="3" fill="#000"/>
<text x="452.5" y="822" class="t" textLength="49.5" lengthAdjust="spacingAndGlyphs">11 Jul 00:00</text>
<rect x="517" y="810" width="1" height="3" fill="#000"/>
<text x="516.5" y="822" class="t" textLength="49.5" lengthAdjust="spacingAndGlyphs">11 Jul 16:00</text>
<rect x="581" y="810" width="1" height="3" fill="#000"/>
<text x="580.5" y="822" class="t" textLength="49.5" lengthAdjust="spacingAndGlyphs">12 Jul 08:00</text>
<rect x="645" y="810" width="1" height="3" fill="#000"/>
<text x="644.5" y="822" class="t" textLength="49.5" lengthAdjust="spacingAndGlyphs">13 Jul 00:00</text>
<rect x="709" y="810" width="1" height="3" fill="#000"/>
<text x="708.5" y="822" class="t" textLength="49.5" lengthAdjust="spacingAndGlyphs">13 Jul 16:00</text>
<rect x="773" y="810" width="1" height="3" fill="#000"/>
<text x="772.5" y="822" class="t" textLength="49.5" lengthAdjust="spacingAndGlyphs">14 Jul 08:00</text>
<rect x="837" y="810" width="1" height="3" fill="#000"/>
<text x="836.5" y="822" class="t" textLength="49.5" lengthAdjust="spacingAndGlyphs">16 Jul 23:00</text>
<rect x="901" y="810" width="1" height="3" fill="#000"/>
<text x="900.5" y="822" class="t" textLength="49.5" lengthAdjust="spacingAndGlyphs">17 Jul 12:00</text>
<rect x="965" y="810" width="1" height="3" fill="#000"/>
<text x="964.5" y="822" class="t" textLength="49.5" lengthAdjust="spacingAndGlyphs">18 Jul 04:00</text>
<rect x="1029" y="810" width="1" height="3" fill="#000"/>
<text x="1028.5" y="822" class="t" textLength="49.5" lengthAdjust="spacingAndGlyphs">18 Jul 22:00</text>
<rect x="1093" y="810" width="1" height="3" fill="#000"/>
<text x="1092.5" y="822" class="t" textLength="49.5" lengthAdjust="spacingAndGlyphs">19 Jul 12:00</text>
<rect x="1157" y="810" width="1" height="3" fill="#000"/>
<text x="1156.5" y="822" class="t" textLength="49.5" lengthAdjust="spacingAndGlyphs">20 Jul 04:00</text>
<rect x="1221" y="810" width="1" height="3" fill="#000"/>
<text x="1220.5" y="822" class="t" textLength="49.5" lengthAdjust="spacingAndGlyphs">20 Jul 20:00</text>
<rect x="1285" y="810" width="1" height="3" fill="#000"/>
<text x="1284.5" y="822" class="t" textLength="49.5" lengthAdjust="spacingAndGlyphs">21 Jul 12:00</text>
</g>
<defs><pattern id="chk" width="2" height="2" patternUnits="userSpaceOnUse"><rect width="2" height="2" fill="#f0f0f0"/><rect width="1" height="1" fill="#fff"/><rect x="1" y="1" width="1" height="1" fill="#fff"/></pattern><linearGradient id="gold" x1="0" y1="0" x2="1" y2="1"><stop offset="0" stop-color="#f8e070"/><stop offset="0.5" stop-color="#e8b820"/><stop offset="1" stop-color="#b07808"/></linearGradient><linearGradient id="redb" x1="0" y1="0" x2="0" y2="1"><stop offset="0" stop-color="#ea6a44"/><stop offset="1" stop-color="#d0280e"/></linearGradient><radialGradient id="lens" cx="0.4" cy="0.35" r="0.7"><stop offset="0" stop-color="#f4fbff"/><stop offset="1" stop-color="#bfe0f5"/></radialGradient><linearGradient id="clk" x1="0" y1="0" x2="0" y2="1"><stop offset="0" stop-color="#2a8cf0"/><stop offset="1" stop-color="#0a4aa8"/></linearGradient></defs>
<g id="tb-items">
<rect x="243" y="0" width="24" height="20" fill="url(#chk)"/>
<rect x="242" y="0" width="1" height="20" fill="#a0a0a0"/>
<rect x="267" y="0" width="1" height="21" fill="#fff"/><rect x="242" y="20" width="25" height="1" fill="#fff"/>
<rect x="395" y="0" width="24" height="20" fill="url(#chk)"/>
<rect x="394" y="0" width="1" height="20" fill="#a0a0a0"/>
<rect x="419" y="0" width="1" height="21" fill="#fff"/><rect x="394" y="20" width="25" height="1" fill="#fff"/>
<rect x="423" y="0" width="24" height="20" fill="url(#chk)"/>
<rect x="422" y="0" width="1" height="20" fill="#a0a0a0"/>
<rect x="447" y="0" width="1" height="21" fill="#fff"/><rect x="422" y="20" width="25" height="1" fill="#fff"/>
<rect x="583" y="0" width="24" height="20" fill="url(#chk)"/>
<rect x="582" y="0" width="1" height="20" fill="#a0a0a0"/>
<rect x="607" y="0" width="1" height="21" fill="#fff"/><rect x="582" y="20" width="25" height="1" fill="#fff"/>
<rect x="1029" y="0" width="24" height="20" fill="url(#chk)"/>
<rect x="1028" y="0" width="1" height="20" fill="#a0a0a0"/>
<rect x="1053" y="0" width="1" height="21" fill="#fff"/><rect x="1028" y="20" width="25" height="1" fill="#fff"/>
<rect x="204" y="0" width="1" height="22" fill="#a0a0a0"/><rect x="205" y="0" width="1" height="22" fill="#fff"/>
<rect x="299" y="0" width="1" height="20" fill="#a0a0a0"/><rect x="300" y="0" width="1" height="20" fill="#fff"/>
<rect x="389" y="0" width="1" height="20" fill="#a0a0a0"/><rect x="390" y="0" width="1" height="20" fill="#fff"/>
<rect x="451" y="0" width="1" height="20" fill="#a0a0a0"/><rect x="452" y="0" width="1" height="20" fill="#fff"/>
<rect x="572" y="0" width="1" height="22" fill="#a0a0a0"/><rect x="573" y="0" width="1" height="22" fill="#fff"/>
<rect x="639" y="0" width="1" height="20" fill="#a0a0a0"/><rect x="640" y="0" width="1" height="20" fill="#fff"/>
<rect x="878" y="0" width="1" height="22" fill="#a0a0a0"/><rect x="879" y="0" width="1" height="22" fill="#fff"/>
<rect x="1139" y="0" width="1" height="22" fill="#a0a0a0"/><rect x="1140" y="0" width="1" height="22" fill="#fff"/>
<rect x="208" y="0" width="3" height="1" fill="#a8a8a8"/>
<rect x="208" y="2" width="3" height="1" fill="#a8a8a8"/>
<rect x="208" y="4" width="3" height="1" fill="#a8a8a8"/>
<rect x="208" y="6" width="3" height="1" fill="#a8a8a8"/>
<rect x="208" y="8" width="3" height="1" fill="#a8a8a8"/>
<rect x="208" y="10" width="3" height="1" fill="#a8a8a8"/>
<rect x="208" y="12" width="3" height="1" fill="#a8a8a8"/>
<rect x="208" y="14" width="3" height="1" fill="#a8a8a8"/>
<rect x="208" y="16" width="3" height="1" fill="#a8a8a8"/>
<rect x="208" y="18" width="3" height="1" fill="#a8a8a8"/>
<rect x="576" y="0" width="3" height="1" fill="#a8a8a8"/>
<rect x="576" y="2" width="3" height="1" fill="#a8a8a8"/>
<rect x="576" y="4" width="3" height="1" fill="#a8a8a8"/>
<rect x="576" y="6" width="3" height="1" fill="#a8a8a8"/>
<rect x="576" y="8" width="3" height="1" fill="#a8a8a8"/>
<rect x="576" y="10" width="3" height="1" fill="#a8a8a8"/>
<rect x="576" y="12" width="3" height="1" fill="#a8a8a8"/>
<rect x="576" y="14" width="3" height="1" fill="#a8a8a8"/>
<rect x="576" y="16" width="3" height="1" fill="#a8a8a8"/>
<rect x="576" y="18" width="3" height="1" fill="#a8a8a8"/>
<rect x="882" y="0" width="3" height="1" fill="#a8a8a8"/>
<rect x="882" y="2" width="3" height="1" fill="#a8a8a8"/>
<rect x="882" y="4" width="3" height="1" fill="#a8a8a8"/>
<rect x="882" y="6" width="3" height="1" fill="#a8a8a8"/>
<rect x="882" y="8" width="3" height="1" fill="#a8a8a8"/>
<rect x="882" y="10" width="3" height="1" fill="#a8a8a8"/>
<rect x="882" y="12" width="3" height="1" fill="#a8a8a8"/>
<rect x="882" y="14" width="3" height="1" fill="#a8a8a8"/>
<rect x="882" y="16" width="3" height="1" fill="#a8a8a8"/>
<rect x="882" y="18" width="3" height="1" fill="#a8a8a8"/>
<text x="-1.8" y="12.8" class="cj" textLength="35.6" lengthAdjust="spacingAndGlyphs">新订单</text>
<text x="149.2" y="12.8" class="cj" textLength="47.8" lengthAdjust="spacingAndGlyphs">自动交易</text>
<g><path d="M45.2,11.6 Q49.6,8.6 50.6,3.4 Q51.2,2.6 52.3,3 L60.5,9.6 Q61.3,10.4 60.6,11.4 L55.2,17.3 Q54.4,18 53.6,17.4 Z" fill="url(#gold)" stroke="#a87008" stroke-width="0.8"/><path d="M46,12.2 L53.8,18 L60.6,11.8" fill="none" stroke="#8a5a06" stroke-width="0.9"/><path d="M51.2,3.6 L49.6,8.5" stroke="#fff3a0" stroke-width="0.8" fill="none"/></g>
<g><path d="M75.5,3 L83.5,2 L86,3.5 L86,12 L78.5,13.5 L75.5,11.5 Z" fill="#2a9df4" stroke="#1878d0" stroke-width="0.6"/><path d="M78.5,5 L86,3.5 L86,12 L78.5,13.5 Z" fill="#1d86e8"/><path d="M75.5,3 L78.5,5 L78.5,13.5" fill="none" stroke="#bfe4ff" stroke-width="0.7"/><rect x="80" y="6" width="4.5" height="1.2" fill="#d8efff" transform="rotate(-10 82 6.5)"/><path d="M75,17.3 Q72.8,17.3 73,15 Q73.3,13 75.6,13.2 Q76.2,11 78.8,11 Q81,10.8 82,12.3 Q83.3,11.3 85,11.8 Q87,12.4 86.9,14 Q89,14.2 88.8,16 Q88.5,17.5 86.5,17.3 Z" fill="#f4f7fc" stroke="#7a9cc8" stroke-width="0.9"/><path d="M74.5,16.3 L87.5,16.3" stroke="#b8cce6" stroke-width="1"/></g>
<g fill="none"><circle cx="109" cy="10" r="7.6" stroke="#b9cbe8" stroke-width="1.3"/><circle cx="109" cy="10" r="5.2" stroke="#93b1e4" stroke-width="1.3"/><circle cx="109" cy="10" r="2.9" stroke="#6a93dc" stroke-width="1.2"/><path d="M109.3,18 A8,8 0 0 0 117,10 L109.3,10 Z" fill="#8fd08f" opacity="0.45"/><path d="M116.6,10 A7.6,7.6 0 0 1 109,17.6" stroke="#6fbf6f" stroke-width="1.3"/><path d="M114.2,10 A5.2,5.2 0 0 1 109,15.2" stroke="#63b863" stroke-width="1.3"/><path d="M111.9,10 A2.9,2.9 0 0 1 109,12.9" stroke="#58b058" stroke-width="1.2"/><circle cx="109" cy="9.8" r="1.8" fill="#2a5fd8"/><path d="M109.4,10.6 L109.4,18" stroke="#18a018" stroke-width="1.4"/></g>
<g><path d="M130,10.5 L143.5,9 L142,13 L137.5,17.5 L135.5,17.5 Z" fill="#f2d44a" stroke="#c09a10" stroke-width="0.7"/><ellipse cx="136" cy="7.6" rx="8" ry="2.9" fill="#58a8d8" stroke="#2f7fb4" stroke-width="0.7"/><path d="M131.6,6.8 Q132,2.2 136,2.2 Q140,2.2 140.6,6.6 Q136,8.6 131.6,6.8 Z" fill="#7cc4ea" stroke="#2f7fb4" stroke-width="0.7"/><circle cx="140.6" cy="13.7" r="4.1" fill="#dc2a12"/><rect x="138.9" y="12" width="3.4" height="3.4" fill="#fff"/></g>
<g stroke="#505050" stroke-width="1" fill="none" shape-rendering="crispEdges"><path d="M222.5,5 V18 M220,15.5 H232"/></g><path d="M222.5,3.6 L220.6,6.2 L224.4,6.2 Z M233.8,15.5 L231.2,13.6 L231.2,17.4 Z" fill="#505050"/>
<path d="M228.5,5 V13.6 M228.5,6.5 H231.2 M226,12.5 H228.5" stroke="#0a9a0a" stroke-width="1.1" fill="none" shape-rendering="crispEdges"/>
<g stroke="#505050" stroke-width="1" fill="none" shape-rendering="crispEdges"><path d="M250.5,5 V18 M248,15.5 H260"/></g><path d="M250.5,3.6 L248.6,6.2 L252.4,6.2 Z M261.8,15.5 L259.2,13.6 L259.2,17.4 Z" fill="#505050"/>
<g shape-rendering="crispEdges"><rect x="256" y="2" width="1" height="12" fill="#0a8a0a"/><rect x="254" y="4" width="5" height="8" fill="#0a9a0a"/><rect x="255" y="5" width="3" height="6" fill="#5ae65a"/></g>
<g stroke="#505050" stroke-width="1" fill="none" shape-rendering="crispEdges"><path d="M278.5,5 V18 M276,15.5 H288"/></g><path d="M278.5,3.6 L276.6,6.2 L280.4,6.2 Z M289.8,15.5 L287.2,13.6 L287.2,17.4 Z" fill="#505050"/>
<path d="M277,12.6 Q280.5,10.8 282.3,8.2 Q283.4,6.8 284.6,7.8 Q286.8,10.2 289,11" stroke="#2a9a2a" stroke-width="1.2" fill="none"/>
<path d="M317.4,12.2 L322.6,16.8" stroke="#8a6a10" stroke-width="3.4" stroke-linecap="round"/><path d="M317.6,12.2 L322.4,16.4" stroke="#e8c838" stroke-width="2" stroke-linecap="round"/><circle cx="314" cy="7.9" r="5.4" fill="url(#lens)" stroke="#3a80d8" stroke-width="1.3"/><path d="M311,7.9 H317" stroke="#3f82b0" stroke-width="1.7"/><path d="M314,4.9 V10.9" stroke="#3f82b0" stroke-width="1.7"/>
<path d="M345.7,12.2 L350.90000000000003,16.8" stroke="#8a6a10" stroke-width="3.4" stroke-linecap="round"/><path d="M345.90000000000003,12.2 L350.7,16.4" stroke="#e8c838" stroke-width="2" stroke-linecap="round"/><circle cx="342.3" cy="7.9" r="5.4" fill="url(#lens)" stroke="#3a80d8" stroke-width="1.3"/><path d="M339.3,7.9 H345.3" stroke="#3f82b0" stroke-width="1.7"/>
<rect x="364.2" y="2.2" width="7.8" height="7.8" rx="0.8" fill="#3fa020"/><rect x="364.2" y="2.2" width="7.8" height="3" rx="0.8" fill="#2f8a12"/><rect x="365.2" y="5.5" width="5.8" height="2.9" fill="#fff"/><rect x="365.2" y="8.2" width="1.3" height="1.2" fill="#fff"/><rect x="369.7" y="8.2" width="1.3" height="1.2" fill="#fff"/><rect x="366.59999999999997" y="6.5" width="3.2" height="0.9" fill="#3fa020" opacity="0.55"/><rect x="365.09999999999997" y="3.2" width="1" height="1" fill="#fff" opacity="0.8"/>
<rect x="372.2" y="2.2" width="7.8" height="7.8" rx="0.8" fill="#2f62d8"/><rect x="372.2" y="2.2" width="7.8" height="3" rx="0.8" fill="#1840b0"/><rect x="373.2" y="5.5" width="5.8" height="2.9" fill="#fff"/><rect x="373.2" y="8.2" width="1.3" height="1.2" fill="#fff"/><rect x="377.7" y="8.2" width="1.3" height="1.2" fill="#fff"/><rect x="374.59999999999997" y="6.5" width="3.2" height="0.9" fill="#2f62d8" opacity="0.55"/><rect x="373.09999999999997" y="3.2" width="1" height="1" fill="#fff" opacity="0.8"/>
<rect x="364.2" y="10.2" width="7.8" height="7.8" rx="0.8" fill="#2f62d8"/><rect x="364.2" y="10.2" width="7.8" height="3" rx="0.8" fill="#1840b0"/><rect x="365.2" y="13.5" width="5.8" height="2.9" fill="#fff"/><rect x="365.2" y="16.2" width="1.3" height="1.2" fill="#fff"/><rect x="369.7" y="16.2" width="1.3" height="1.2" fill="#fff"/><rect x="366.59999999999997" y="14.5" width="3.2" height="0.9" fill="#2f62d8" opacity="0.55"/><rect x="365.09999999999997" y="11.2" width="1" height="1" fill="#fff" opacity="0.8"/>
<rect x="372.2" y="10.2" width="7.8" height="7.8" rx="0.8" fill="#3fa020"/><rect x="372.2" y="10.2" width="7.8" height="3" rx="0.8" fill="#2f8a12"/><rect x="373.2" y="13.5" width="5.8" height="2.9" fill="#fff"/><rect x="373.2" y="16.2" width="1.3" height="1.2" fill="#fff"/><rect x="377.7" y="16.2" width="1.3" height="1.2" fill="#fff"/><rect x="374.59999999999997" y="14.5" width="3.2" height="0.9" fill="#3fa020" opacity="0.55"/><rect x="373.09999999999997" y="11.2" width="1" height="1" fill="#fff" opacity="0.8"/>
<g stroke="#505050" stroke-width="1" fill="none" shape-rendering="crispEdges"><path d="M402.5,5 V18 M400,15.5 H412"/></g><path d="M402.5,3.6 L400.6,6.2 L404.4,6.2 Z M413.8,15.5 L411.2,13.6 L411.2,17.4 Z" fill="#505050"/>
<path d="M407.4,6.6 L410.8,9.6 L407.4,12.6 Z" fill="#5ad05a" stroke="#0a9a0a" stroke-width="1"/>
<g stroke="#505050" stroke-width="1" fill="none" shape-rendering="crispEdges"><path d="M430.5,5 V18 M428,15.5 H440"/></g><path d="M430.5,3.6 L428.6,6.2 L432.4,6.2 Z M441.8,15.5 L439.2,13.6 L439.2,17.4 Z" fill="#505050"/>
<rect x="436" y="4" width="1.2" height="10" fill="#1a6aa8"/><path d="M437.4,9.5 L441,7.4 L440,9.5 L441,11.6 Z M439,9 H442 V10 H439 Z" fill="#d84a08"/>
<path d="M461.5,2.6 H469.2 L472.8,6 V15.2 H461.5 Z" fill="#fafafa" stroke="#8a8a8a" stroke-width="0.9"/><path d="M469.2,2.6 V6 H472.8" fill="#e4e4e4" stroke="#8a8a8a" stroke-width="0.7"/><path d="M465.6,5.6 Q464,5.4 464,7 V11 Q464,12.4 465.6,12.2 M463.4,8.6 H466" stroke="#6a5a3a" stroke-width="0.8" fill="none"/>
<path d="M469.2,8.8 H472.8 V12.2 H476.6 V15.8 H472.8 V19.2 H469.2 V15.8 H465.6 V12.2 H469.2 Z" fill="#14c814" stroke="#078007" stroke-width="0.9"/><path d="M469.8,9.6 H472.2 V12.8 H476 V13.6 H469.8 Z" fill="#7af07a" opacity="0.7"/>
<path d="M482.6,9.2 H488.6 L485.6,12.2 Z" fill="#000"/>
<path d="M521.6,9.2 H527.6 L524.6,12.2 Z" fill="#000"/>
<path d="M560.6,9.2 H566.6 L563.6,12.2 Z" fill="#000"/>
<path d="M866.6,9.2 H872.6 L869.6,12.2 Z" fill="#000"/>
<circle cx="507" cy="9.8" r="7.7" fill="url(#clk)"/><circle cx="507" cy="9.8" r="5.5" fill="#fbfbfb" stroke="#0a3f90" stroke-width="0.5"/><path d="M506.6,5.6 V10 L509.6,10.4" stroke="#222" stroke-width="1.2" fill="none"/><path d="M507,14.3 v0.8 M502.4,9.8 h0.8 M510.8,9.8 h0.8" stroke="#6aa8f0" stroke-width="0.8"/>
<rect x="538.6" y="3.2" width="15" height="13.6" fill="#fff" stroke="#3c78c8" stroke-width="1.1"/><rect x="538.6" y="3.2" width="15" height="2.2" fill="#4a88d8"/><rect x="538.6" y="10.8" width="15" height="1" fill="#4a88d8"/><path d="M540.6,9.6 H542.2 L543.4,8.2 H544.8 L545.6,7.4 H547 L548,8.4 H549.4 L550.4,7.6 H551.8" stroke="#a02000" stroke-width="1.1" fill="none"/><path d="M541.4,14.6 H542.6 L543.4,13.6 H544.6 L545.4,14.6 H546.6 L548.6,12.4 H549.4 L551.2,14.6" stroke="#1a8a1a" stroke-width="1.1" fill="none"/>
<path d="M590.2,2.8 V13.6 L592.6,11.6 L594.8,17 L596.8,16.2 L594.8,11.2 L598.2,10.6 Z" fill="#484848"/>
<g fill="#505050" shape-rendering="crispEdges"><rect x="615" y="10" width="7" height="1"/><rect x="623" y="10" width="7" height="1"/><rect x="622" y="3" width="1" height="7"/><rect x="622" y="11" width="1" height="7"/></g>
<g fill="#505050" shape-rendering="crispEdges"><rect x="656" y="4" width="1" height="13"/><rect x="679" y="10" width="12" height="1"/></g>
<path d="M706.8,17 L719.2,4.8" stroke="#505050" stroke-width="1.1"/>
<g stroke="#505050" stroke-width="0.9" fill="none"><path d="M733,12 L742,4.2 M734.5,16.4 L747,5.6 M738,17 L747.5,8.8"/><path d="M736,9.6 L736.6,15.6 M739.2,7 L739.8,13.4 M742.4,4.2 L743,11 M745.4,2.6 L746,8.6" stroke-width="0.8"/></g>
<text x="743.8" y="18.9" style="font-size:6.6px;font-weight:bold;fill:#444">E</text>
<path d="M762,3.5 H775" stroke="#505050" stroke-width="1" stroke-dasharray="1 1" shape-rendering="crispEdges"/>
<path d="M762,6.5 H775" stroke="#505050" stroke-width="1" stroke-dasharray="1 1" shape-rendering="crispEdges"/>
<path d="M762,10.5 H775" stroke="#505050" stroke-width="1" stroke-dasharray="1 1" shape-rendering="crispEdges"/>
<path d="M762,14.5 H771" stroke="#505050" stroke-width="1" stroke-dasharray="1 1" shape-rendering="crispEdges"/>
<text x="771.6" y="18.9" style="font-size:6.6px;font-weight:bold;fill:#444">F</text>
<text x="792.4" y="15.1" style="font-size:12.6px;fill:#4a4a4a">A</text>
<rect x="819.5" y="4.5" width="11" height="12" fill="none" stroke="#505050" stroke-width="1" stroke-dasharray="1 1" shape-rendering="crispEdges"/><rect x="818.5" y="3.2" width="2" height="1.2" fill="#505050"/>
<g fill="#4a4a4a" shape-rendering="crispEdges"><rect x="821.5" y="7" width="7.5" height="1.4"/><rect x="824.4" y="7" width="1.8" height="8"/></g>
<path d="M846,7 L849.4,4 L853,7 L851.4,8.3 H847.6 Z M853.2,14 L854.8,12.4 H858.6 L860.2,14 L856.7,17.2 Z" fill="#4a4a4a"/><path d="M848.4,11.2 L850.8,13.4 L855.2,8.2" stroke="#4a4a4a" stroke-width="1.3" fill="none"/>
<text x="892.9" y="13.8" class="tf" textLength="13.9" lengthAdjust="spacingAndGlyphs">M1</text>
<text x="921.0" y="13.8" class="tf" textLength="13.9" lengthAdjust="spacingAndGlyphs">M5</text>
<text x="947.3" y="13.8" class="tf" textLength="18.3" lengthAdjust="spacingAndGlyphs">M15</text>
<text x="975.4" y="13.8" class="tf" textLength="18.4" lengthAdjust="spacingAndGlyphs">M30</text>
<text x="1006.1999999999999" y="13.8" class="tf" textLength="12.6" lengthAdjust="spacingAndGlyphs">H1</text>
<text x="1033.4" y="13.8" class="tf" textLength="13.0" lengthAdjust="spacingAndGlyphs">H4</text>
<text x="1062.0" y="13.8" class="tf" textLength="12.8" lengthAdjust="spacingAndGlyphs">D1</text>
<text x="1089.6000000000001" y="13.8" class="tf" textLength="15.2" lengthAdjust="spacingAndGlyphs">W1</text>
<text x="1115.9" y="13.8" class="tf" textLength="16.0" lengthAdjust="spacingAndGlyphs">MN</text>
<path d="M1606.2,10.6 L1601.8,14.6" stroke="#2456cc" stroke-width="2.6" stroke-linecap="round"/><circle cx="1609.6" cy="7.3" r="4" fill="#f6f6ff" stroke="#2a60d4" stroke-width="1.2"/>
<path d="M1626.4,12 Q1626.4,7.6 1631.6,7.6 Q1637,7.6 1637,12 Q1637,16 1632,16.3 L1629.6,18.6 L1629.9,16 Q1626.4,15.4 1626.4,12 Z" fill="#e2e2ee" stroke="#a4a4a4" stroke-width="0.8"/>
<circle cx="1640.5" cy="7.5" r="8.1" fill="url(#redb)"/><text x="1639.5" y="11.7" text-anchor="middle" style="font-family:'DejaVu Sans','Liberation Sans',sans-serif;font-weight:bold;font-size:11.2px;fill:#fff" textLength="5.6" lengthAdjust="spacingAndGlyphs">1</text>
</g>
</svg></body></html>
